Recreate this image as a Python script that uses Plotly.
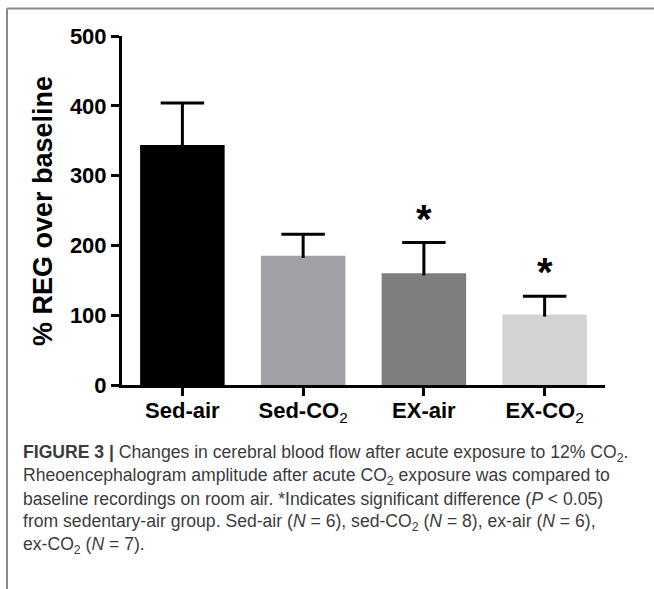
import plotly.graph_objects as go

# ---- data ----
categories = ["Sed-air", "Sed-CO2", "EX-air", "EX-CO2"]
tick_labels = ["Sed-air", "Sed-CO<sub>2</sub>", "EX-air", "EX-CO<sub>2</sub>"]
means = [344, 185, 160, 101]
sem = [60, 31, 44, 26]
significant = [False, False, True, True]
bar_colors = ["#000000", "#a1a0a5", "#7e7e7e", "#d3d3d3"]

caption_lines = [
    "<b>FIGURE 3 |</b> Changes in cerebral blood flow after acute exposure to 12% CO<sub>2</sub>.",
    "Rheoencephalogram amplitude after acute CO<sub>2</sub> exposure was compared to",
    "baseline recordings on room air. *Indicates significant difference (<i>P</i> &lt; 0.05)",
    "from sedentary-air group. Sed-air (<i>N</i> = 6), sed-CO<sub>2</sub> (<i>N</i> = 8), ex-air (<i>N</i> = 6),",
    "ex-CO<sub>2</sub> (<i>N</i> = 7).",
]

# ---- layout geometry (pixels) ----
W, H = 654, 589
L, R, T, B = 122, 605, 36, 385


def px_x(p):
    return (p - L) / (R - L)


def px_y(p):
    return (B - p) / (B - T)


fig = go.Figure()
fig.add_trace(go.Bar(
    x=list(range(len(categories))), y=means, width=0.7,
    marker=dict(color=bar_colors, line=dict(width=0)),
    showlegend=False, hoverinfo="skip",
))

# error bars (upper only) drawn as lines from the data
ex, ey = [], []
cap = 0.18
for i, (m, e) in enumerate(zip(means, sem)):
    ex += [i, i, None, i - cap, i + cap, None]
    ey += [m - 3, m + e, None, m + e, m + e, None]
fig.add_trace(go.Scatter(x=ex, y=ey, mode="lines",
                         line=dict(color="black", width=3),
                         showlegend=False, hoverinfo="skip"))

annotations = []
for i, (m, e, s) in enumerate(zip(means, sem, significant)):
    if s:
        annotations.append(dict(x=i, y=m + e, xref="x", yref="y", text="<b>*</b>",
                                showarrow=False, yanchor="bottom", yshift=0,
                                font=dict(family="Liberation Sans, Arial", size=40, color="black")))

# y-axis title
annotations.append(dict(x=px_x(43), y=px_y(211), xref="paper", yref="paper",
                        text="<b>% REG over baseline</b>", textangle=-90, showarrow=False,
                        xanchor="center", yanchor="middle",
                        font=dict(family="Liberation Sans, Arial", size=27, color="black")))

# caption
for k, line in enumerate(caption_lines):
    annotations.append(dict(x=px_x(21), y=px_y(453 + 23 * k), xref="paper", yref="paper",
                            text=line, showarrow=False, xanchor="left", yanchor="middle",
                            align="left",
                            font=dict(family="Liberation Sans, Arial", size=17.6, color="#3c3c3c")))

shapes = [
    dict(type="line", xref="paper", yref="paper", x0=px_x(7), x1=px_x(W + 5),
         y0=px_y(8.5), y1=px_y(8.5), line=dict(color="#8a8a8a", width=2)),
    dict(type="line", xref="paper", yref="paper", x0=px_x(7), x1=px_x(7),
         y0=px_y(8.5), y1=px_y(H + 5), line=dict(color="#8a8a8a", width=2)),
]

x_tick_text = ["<b>" + t.replace("<sub>2</sub>", "</b><sub>2</sub><b>") + "</b>" for t in tick_labels]

fig.update_layout(
    width=W, height=H,
    margin=dict(l=L, r=W - R, t=T, b=H - B),
    paper_bgcolor="white", plot_bgcolor="white",
    annotations=annotations, shapes=shapes,
    xaxis=dict(range=[-0.5, 3.5], tickmode="array", tickvals=list(range(len(categories))),
               ticktext=x_tick_text, showline=True, linecolor="black", linewidth=3,
               ticks="outside", ticklen=8, tickwidth=3, tickcolor="black",
               showgrid=False, zeroline=False, ticklabelstandoff=-4,
               tickfont=dict(family="Liberation Sans, Arial", size=22, color="black"),
               fixedrange=True),
    yaxis=dict(range=[0, 500], tickvals=[0, 100, 200, 300, 400, 500],
               ticktext=["<b>%d</b>" % v for v in [0, 100, 200, 300, 400, 500]],
               showline=True, linecolor="black", linewidth=3,
               ticks="outside", ticklen=8, tickwidth=3, tickcolor="black",
               showgrid=False, zeroline=False,
               tickfont=dict(family="Liberation Sans, Arial", size=22, color="black"),
               fixedrange=True),
)

fig.write_html("out.html", config={"displayModeBar": False})
